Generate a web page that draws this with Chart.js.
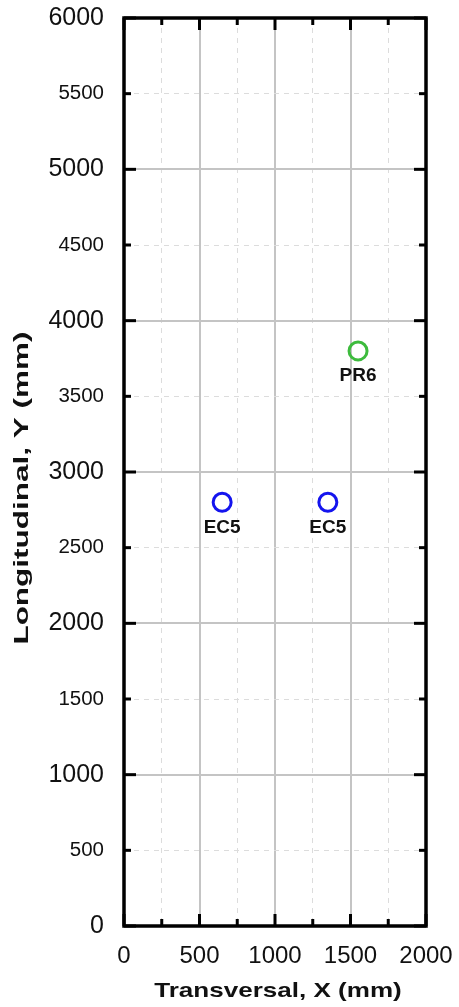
<!DOCTYPE html>
<html>
<head>
<meta charset="utf-8">
<script src="https://cdn.jsdelivr.net/npm/chart.js@4.4.1/dist/chart.umd.min.js"></script>
<style>
  html, body { margin: 0; padding: 0; background: #fff; }
  #wrap { width: 459px; height: 1007px; position: relative; }
</style>
</head>
<body>
<div id="wrap"><canvas id="layout-chart"></canvas></div>
<script>
// sensor positions (mm)
const ec5X = [650, 1350];
const ec5Y = [2800, 2800];
const ec5Labels = ["EC5", "EC5"];
const pr6X = [1550];
const pr6Y = [3800];
const pr6Labels = ["PR6"];

const xLimits = [0, 2000];
const yLimits = [0, 6000];
const xTitle = "Transversal, X (mm)";
const yTitle = "Longitudinal, Y (mm)";

const FONT = "'Liberation Sans', Arial, sans-serif";

const toPoints = (xs, ys) => xs.map((x, i) => ({ x: x, y: ys[i] }));
const isMajorX = v => v % 500 === 0;
const isMajorY = v => v % 1000 === 0;

// frame, inward ticks, stretched axis titles, point labels
const framePlugin = {
  id: "frame",
  afterDraw(c) {
    const { ctx, chartArea: a, scales } = c;
    const x = scales.x, y = scales.y;
    ctx.save();
    ctx.strokeStyle = "#000";
    ctx.lineWidth = 3;
    const seg = (x1, y1, x2, y2) => {
      ctx.beginPath(); ctx.moveTo(x1, y1); ctx.lineTo(x2, y2); ctx.stroke();
    };
    x.ticks.forEach(t => {
      const px = x.getPixelForValue(t.value);
      const len = isMajorX(t.value) ? 12 : 7;
      seg(px, a.bottom, px, a.bottom - len);
      seg(px, a.top, px, a.top + len);
    });
    y.ticks.forEach(t => {
      const py = y.getPixelForValue(t.value);
      const len = isMajorY(t.value) ? 12 : 7;
      seg(a.left, py, a.left + len, py);
      seg(a.right, py, a.right - len, py);
    });
    ctx.lineWidth = 3.5;
    ctx.strokeRect(a.left, a.top, a.right - a.left, a.bottom - a.top);

    // axis titles
    ctx.fillStyle = "#111";
    ctx.font = "bold 21px " + FONT;
    ctx.textAlign = "center";
    ctx.textBaseline = "alphabetic";
    ctx.save();
    ctx.translate((a.left + a.right) / 2 + 3, c.height - 10);
    ctx.scale(1.24, 1);
    ctx.fillText(xTitle, 0, 0);
    ctx.restore();

    ctx.save();
    ctx.translate(28, (a.top + a.bottom) / 2 + 16);
    ctx.rotate(-Math.PI / 2);
    ctx.scale(1.5, 1);
    ctx.fillText(yTitle, 0, 0);
    ctx.restore();

    // labels under the markers
    ctx.font = "bold 19px " + FONT;
    ctx.textBaseline = "middle";
    c.data.datasets.forEach((ds, i) => {
      const meta = c.getDatasetMeta(i);
      meta.data.forEach((el, j) => {
        ctx.fillText(ds.labels[j], el.x, el.y + 25);
      });
    });
    ctx.restore();
  }
};

const canvas = document.getElementById("layout-chart");
new Chart(canvas, {
  type: "scatter",
  data: {
    datasets: [
      {
        label: "EC5",
        labels: ec5Labels,
        data: toPoints(ec5X, ec5Y),
        pointStyle: "circle",
        pointRadius: 9,
        pointHoverRadius: 9,
        borderWidth: 3,
        borderColor: "#1414ee",
        backgroundColor: "rgba(0,0,0,0)"
      },
      {
        label: "PR6",
        labels: pr6Labels,
        data: toPoints(pr6X, pr6Y),
        pointStyle: "circle",
        pointRadius: 9,
        pointHoverRadius: 9,
        borderWidth: 3,
        borderColor: "#3dbb3d",
        backgroundColor: "rgba(0,0,0,0)"
      }
    ]
  },
  options: {
    animation: false,
    responsive: true,
    maintainAspectRatio: false,
    layout: { padding: { top: 18, right: 33, bottom: 0, left: 0 } },
    plugins: {
      legend: { display: false },
      tooltip: { enabled: false }
    },
    scales: {
      x: {
        type: "linear",
        min: xLimits[0],
        max: xLimits[1],
        afterFit: s => {
          s.height = 81;
          s.paddingLeft = 0;
          s.paddingRight = 0;
        },
        ticks: {
          stepSize: 250,
          autoSkip: false,
          maxRotation: 0,
          padding: 16,
          color: "#111",
          font: { family: FONT, size: 24 },
          callback: v => (isMajorX(v) ? String(v) : "")
        },
        grid: {
          drawTicks: false,
          color: ctx => (isMajorX(ctx.tick.value) ? "#c4c4c4" : "#dcdcdc"),
          lineWidth: ctx => (isMajorX(ctx.tick.value) ? 2 : 1)
        },
        border: {
          display: false,
          dash: ctx => (ctx.tick && !isMajorX(ctx.tick.value) ? [5, 5] : [])
        },
        title: { display: false }
      },
      y: {
        type: "linear",
        min: yLimits[0],
        max: yLimits[1],
        afterFit: s => {
          s.width = 124;
          s.paddingTop = 0;
          s.paddingBottom = 0;
        },
        ticks: {
          stepSize: 500,
          autoSkip: false,
          padding: 20,
          color: "#111",
          font: ctx => ({
            family: FONT,
            size: ctx.tick && isMajorY(ctx.tick.value) ? 25 : 20.5
          }),
          callback: v => String(v)
        },
        grid: {
          drawTicks: false,
          color: ctx => (isMajorY(ctx.tick.value) ? "#c4c4c4" : "#dcdcdc"),
          lineWidth: ctx => (isMajorY(ctx.tick.value) ? 2 : 1)
        },
        border: {
          display: false,
          dash: ctx => (ctx.tick && !isMajorY(ctx.tick.value) ? [5, 5] : [])
        },
        title: { display: false }
      }
    }
  },
  plugins: [framePlugin]
});
</script>
</body>
</html>
